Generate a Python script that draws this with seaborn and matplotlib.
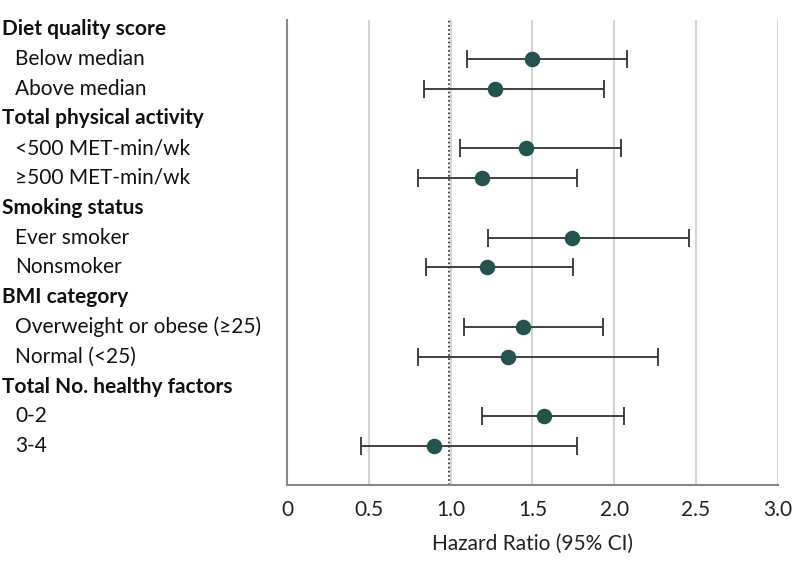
import numpy as np
import pandas as pd
import matplotlib
matplotlib.use('Agg')
import matplotlib.pyplot as plt
import matplotlib.transforms as mtransforms
import seaborn as sns

# rows from top to bottom; headers carry no estimate
row_labels = ['Diet quality score', 'Below median', 'Above median',
              'Total physical activity', '<500 MET-min/wk', '≥500 MET-min/wk',
              'Smoking status', 'Ever smoker', 'Nonsmoker',
              'BMI category', 'Overweight or obese (≥25)', 'Normal (<25)',
              'Total No. healthy factors', '0-2', '3-4']
is_header = [True, False, False, True, False, False, True, False, False,
             True, False, False, True, False, False]
hr = [np.nan, 1.50, 1.27, np.nan, 1.46, 1.19, np.nan, 1.74, 1.22,
      np.nan, 1.44, 1.35, np.nan, 1.57, 0.90]
ci_low = [np.nan, 1.10, 0.84, np.nan, 1.06, 0.80, np.nan, 1.23, 0.85,
          np.nan, 1.08, 0.80, np.nan, 1.19, 0.45]
ci_high = [np.nan, 2.08, 1.94, np.nan, 2.04, 1.77, np.nan, 2.46, 1.75,
           np.nan, 1.93, 2.27, np.nan, 2.06, 1.77]
x_ticks = [0, 0.5, 1.0, 1.5, 2.0, 2.5, 3.0]
x_tick_labels = ['0', '0.5', '1.0', '1.5', '2.0', '2.5', '3.0']

df = pd.DataFrame({'label': row_labels, 'header': is_header, 'hr': hr,
                   'lo': ci_low, 'hi': ci_high})
df['row'] = np.arange(len(df))
est = df.dropna(subset=['hr'])

sns.set_style('white')
plt.rcParams['font.family'] = ['Lato', 'DejaVu Sans']

fig = plt.figure(figsize=(7.94, 5.70), dpi=100)
ax = fig.add_axes([0.3615, 0.149, 0.618, 0.816])

dot_color = '#24524e'
line_color = '#333333'

# light vertical grid
for xv in x_ticks[1:]:
    ax.axvline(xv, color='#d4d4d4', lw=1.5, zorder=0)
ax.axvline(0.99, color='#222222', lw=1.2, ls=(0, (1, 1.5)), zorder=1)

ax.errorbar(est['hr'], est['row'],
            xerr=[est['hr'] - est['lo'], est['hi'] - est['hr']],
            fmt='none', ecolor=line_color, elinewidth=1.3, capsize=6.2,
            capthick=1.3, zorder=2)
sns.scatterplot(data=est, x='hr', y='row', ax=ax, s=125, color=dot_color,
                edgecolor=dot_color, linewidth=0, zorder=3, legend=False)

ax.set_xlim(0, 3.0)
ax.set_ylim(len(df) + 0.3, -0.3)
ax.set_yticks([])
ax.set_xticks(x_ticks)
ax.set_xticklabels(x_tick_labels, fontsize=15, color='#222222')
ax.tick_params(axis='x', length=5, width=1.3, color='#888888', pad=6)
ax.set_xlabel('Hazard Ratio (95% CI)', fontsize=15, color='#222222', labelpad=10)
ax.set_ylabel('')

for side in ['top', 'right']:
    ax.spines[side].set_visible(False)
for side in ['left', 'bottom']:
    ax.spines[side].set_color('#888888')
    ax.spines[side].set_linewidth(1.5)

trans = mtransforms.blended_transform_factory(fig.transFigure, ax.transData)
for _, r in df.iterrows():
    if r['header']:
        ax.text(2 / 794, r['row'], r['label'], transform=trans, fontsize=15,
                fontweight='bold', va='center', ha='left', color='#111111')
    else:
        ax.text(15 / 794, r['row'], r['label'], transform=trans, fontsize=15,
                va='center', ha='left', color='#111111')

fig.savefig('out.png', dpi=100)
